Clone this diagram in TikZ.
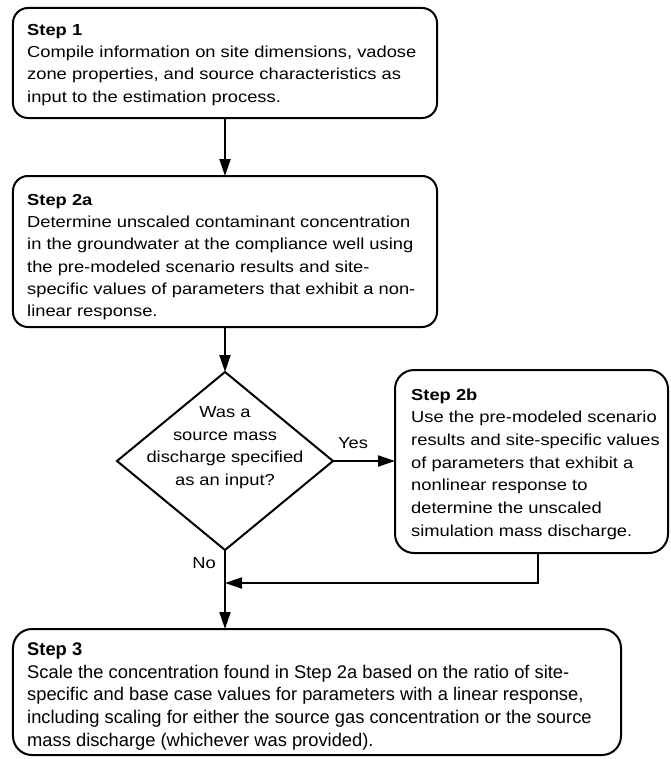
\documentclass[tikz,border=0pt]{standalone}
\usepackage{fontspec}
\setmainfont{Liberation Sans}
\newfontfamily\widefont{Liberation Sans}[FakeStretch=1.15]
\usetikzlibrary{shapes.geometric,arrows.meta}
\tikzset{
  stepbox/.style={draw, line width=2bp, rounded corners=15bp, inner sep=0pt, outer sep=0pt},
  steptext/.style={anchor=north west, inner sep=0pt, align=left, font={\widefont\fontsize{16}{22.4}\selectfont}},
  plaintext/.style={anchor=north west, inner sep=0pt, align=left, font={\fontsize{18.4}{23}\selectfont}},
  arr/.style={line width=2bp, -{Triangle[length=17bp,width=11bp]}},
  lbl/.style={anchor=base, inner sep=0pt, font={\widefont\fontsize{16}{20}\selectfont}},
}
\begin{document}
\begin{tikzpicture}[x=1bp,y=-1bp]
\useasboundingbox (0,0) rectangle (671,759);
% boxes
\node[stepbox, minimum width=424bp, minimum height=110bp] (s1) at (225,63) {};
\node[stepbox, minimum width=424bp, minimum height=151bp] (s2a) at (225,251.5) {};
\node[stepbox, rounded corners=19bp, minimum width=273bp, minimum height=183bp] (s2b) at (531.5,461.5) {};
\node[stepbox, rounded corners=19bp, minimum width=608bp, minimum height=126bp] (s3) at (317,692) {};
\node[draw, diamond, line width=2bp, minimum width=216bp, minimum height=178bp, inner sep=0pt, outer sep=0pt] (d) at (225,461) {};
% texts
\node[steptext] (t1) at (27,19.3) {\strut\textbf{Step 1}\\
Compile information on site dimensions, vadose\\
zone properties, and source characteristics as\\
input to the estimation process.};
\node[steptext] (t2a) at (27,189.3) {\strut\textbf{Step 2a}\\
Determine unscaled contaminant concentration\\
in the groundwater at the compliance well using\\
the pre-modeled scenario results and site-\\
specific values of parameters that exhibit a non-\\
linear response.};
\node[steptext, font={\widefont\fontsize{16}{22.8}\selectfont}] (t2b) at (411,384) {\strut\textbf{Step 2b}\\
Use the pre-modeled scenario\\
results and site-specific values\\
of parameters that exhibit a\\
nonlinear response to\\
determine the unscaled\\
simulation mass discharge.};
\node[plaintext] (t3) at (27,638.9) {\strut\textbf{Step 3}\\
Scale the concentration found in Step 2a based on the ratio of site-\\
specific and base case values for parameters with a linear response,\\
including scaling for either the source gas concentration or the source\\
mass discharge (whichever was provided).};
\node[steptext, anchor=north, align=center, font={\widefont\fontsize{16}{23}\selectfont}] (td) at (225,400.9) {\strut Was a\\
source mass\\
discharge specified\\
as an input?};
% connectors
\coordinate (j) at (225,583);
\draw[arr] (s1.south) -- (s2a.north);
\draw[arr] (s2a.south) -- (d.north);
\draw[arr] (d.east) -- (d.east -| s2b.west);
\draw[arr] (d.south) -- (d.south |- s3.north);
\draw[arr] ([xshift=6.5bp]s2b.south) |- (j);
\node[lbl] (yes) at (353,448) {Yes};
\node[lbl] (no) at (204,568) {No};
\end{tikzpicture}
\end{document}
